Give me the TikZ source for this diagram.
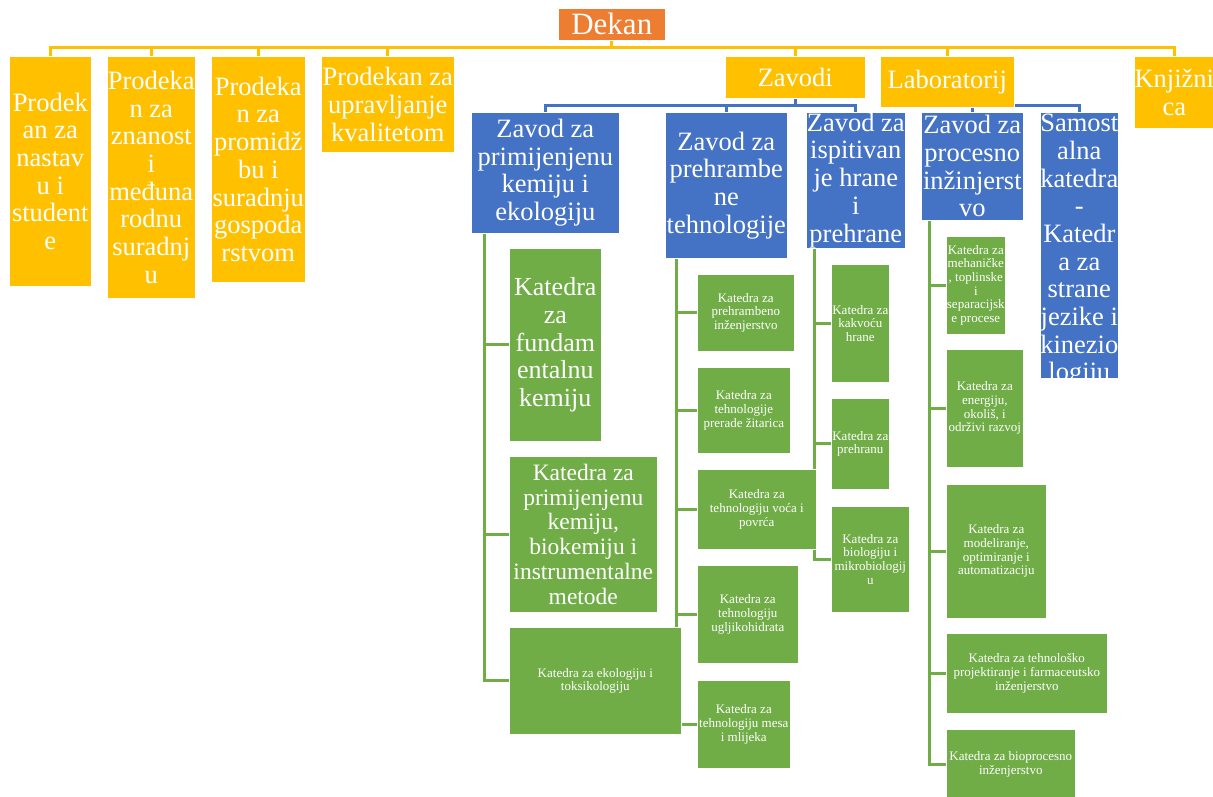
\documentclass[tikz,border=0pt]{standalone}
\usepackage{fontspec}
\setmainfont{Liberation Serif}
\usetikzlibrary{backgrounds}
\definecolor{dekanorange}{HTML}{ED7D31}
\definecolor{gold}{HTML}{FFC000}
\definecolor{zavodblue}{HTML}{4472C4}
\definecolor{katgreen}{HTML}{70AD47}
\newcommand{\bigtxt}{\fontsize{26.5}{27.7}\selectfont}
\newcommand{\smalltxt}{\fontsize{13}{13.7}\selectfont}

\begin{document}
\begin{tikzpicture}
		[x=1pt, y=-1pt,
		box/.style ={rectangle, draw=white, line width=0.6pt, text=white, align=center, anchor=north west, inner sep=0pt, font=\bigtxt},
		dean/.style ={box, fill=dekanorange, font=\fontsize{31}{34}\selectfont},
		prodekan/.style ={box, fill=gold},
		zavod/.style ={box, fill=zavodblue},
		katedra/.style ={box, fill=katgreen, font=\smalltxt},
		yline/.style ={draw=gold, line width=3pt},
		bline/.style ={draw=zavodblue, line width=3pt},
		gline/.style ={draw=katgreen, line width=3pt},
		orgdown/.style ={to path={(\tikztostart.south) -- ++(0,7) -| (\tikztotarget.north)}},
		orghidden/.style ={to path={(\tikztostart.south) ++(0,-2.5) -| (\tikztotarget.north)}},
		katbranch/.style ={to path={([xshift=#1]\tikztostart.south west) |- (\tikztotarget.west)}}]
		\useasboundingbox (0,0) rectangle (1213,796);
		% top level
		\draw (558,8) node[dean, minimum width=107pt, minimum height=32pt] (DK) {Dekan};
		\draw (9,56) node[prodekan, minimum width=82pt, minimum height=230pt] (P1) {Prodek\\an za\\nastav\\u i\\student\\e};
		\draw (107,56) node[prodekan, minimum width=88pt, minimum height=242pt] (P2) {Prodeka\\n za\\znanost\\i\\međuna\\rodnu\\suradnj\\u};
		\draw (211,56) node[prodekan, minimum width=94pt, minimum height=226pt] (P3) {Prodeka\\n za\\promidž\\bu i\\suradnju\\gospoda\\rstvom};
		\draw (321,56) node[prodekan, minimum width=133pt, minimum height=96pt] (P4) {Prodekan za\\upravljanje\\kvalitetom};
		\draw (725,56) node[prodekan, minimum width=140pt, minimum height=42pt] (ZV) {Zavodi};
		\draw (880,56) node[prodekan, minimum width=134pt, minimum height=51pt] (LB) {Laboratorij};
		\draw (1134,56) node[prodekan, minimum width=80pt, minimum height=72pt] (KN) {Knjižni\\ca};
		% zavodi
		\draw (471,112) node[zavod, minimum width=148pt, minimum height=121pt] (ZA) {Zavod za\\primijenjenu\\kemiju i\\ekologiju};
		\draw (665,112) node[zavod, minimum width=122pt, minimum height=146pt] (ZB) {Zavod za\\prehrambe\\ne\\tehnologije};
		\draw (806,112) node[zavod, minimum width=99pt, minimum height=136pt] (ZC) {Zavod za\\ispitivan\\je hrane\\i\\prehrane};
		\draw (921,112) node[zavod, minimum width=102pt, minimum height=108pt] (ZD) {Zavod za\\procesno\\inžinjerst\\vo};
		\draw (1040,112) node[zavod, minimum width=78pt, minimum height=266pt,
			path picture={\node[anchor=north, text=white, align=center, inner sep=0pt, draw=none, fill=none, minimum width=0pt, minimum height=0pt, font=\bigtxt]
				at ([yshift=-1.5pt]path picture bounding box.north) {Samost\\alna\\katedra\\-\\Katedr\\a za\\strane\\jezike i\\kinezio\\logiju};}] (ZE) {};
		% katedre
		\draw (509,248) node[katedra, minimum width=92pt, minimum height=193pt, font=\fontsize{26}{27.7}\selectfont] (KA1) {Katedra\\za\\fundam\\entalnu\\kemiju};
		\draw (509,456) node[katedra, minimum width=148pt, minimum height=156pt, font=\fontsize{23.5}{24.7}\selectfont] (KA2) {Katedra za\\primijenjenu\\kemiju,\\biokemiju i\\instrumentalne\\metode};
		\draw (509,627) node[katedra, minimum width=172pt, minimum height=107pt] (KA3) {Katedra za ekologiju i\\toksikologiju};
		\draw (697,274) node[katedra, minimum width=97pt, minimum height=77pt] (KB1) {Katedra za\\prehrambeno\\inženjerstvo};
		\draw (697,367) node[katedra, minimum width=93pt, minimum height=86pt] (KB2) {Katedra za\\tehnologije\\prerade žitarica};
		\draw (697,469) node[katedra, minimum width=119pt, minimum height=80pt] (KB3) {Katedra za\\tehnologiju voća i\\povrća};
		\draw (697,565) node[katedra, minimum width=101pt, minimum height=98pt] (KB4) {Katedra za\\tehnologiju\\ugljikohidrata};
		\draw (697,680) node[katedra, minimum width=93pt, minimum height=88pt] (KB5) {Katedra za\\tehnologiju mesa\\i mlijeka};
		\draw (831,264) node[katedra, minimum width=58pt, minimum height=118pt] (KC1) {Katedra za\\kakvoću\\hrane};
		\draw (831,398) node[katedra, minimum width=58pt, minimum height=91pt] (KC2) {Katedra za\\prehranu};
		\draw (831,506) node[katedra, minimum width=78pt, minimum height=106pt] (KC3) {Katedra za\\biologiju i\\mikrobiologij\\u};
		\draw (946,236) node[katedra, minimum width=59pt, minimum height=98pt] (KD1) {Katedra za\\mehaničke\\, toplinske\\i\\separacijsk\\e procese};
		\draw (946,349) node[katedra, minimum width=77pt, minimum height=118pt] (KD2) {Katedra za\\energiju,\\okoliš, i\\održivi razvoj};
		\draw (946,484) node[katedra, minimum width=100pt, minimum height=134pt] (KD3) {Katedra za\\modeliranje,\\optimiranje i\\automatizaciju};
		\draw (946,633) node[katedra, minimum width=161pt, minimum height=80pt] (KD4) {Katedra za tehnološko\\projektiranje i farmaceutsko\\inženjerstvo};
		\draw (946,729) node[katedra, minimum width=129pt, minimum height=70pt] (KD5) {Katedra za bioprocesno\\inženjerstvo};

		\begin{scope}[on background layer]
		\fill[white] (0,0) rectangle (1213,796);
		\path[yline]
		(DK) edge[orgdown] (P1)
		(DK) edge[orgdown] (P2)
		(DK) edge[orgdown] (P3)
		(DK) edge[orgdown] (P4)
		(DK) edge[orgdown] (ZV)
		(DK) edge[orgdown] (LB)
		(DK) edge[orgdown] (KN);
		\path[bline]
		(ZV) edge[orgdown] (ZA)
		(ZV) edge[orgdown] (ZB)
		(ZV) edge[orgdown] (ZC)
		(LB) edge[orghidden] (ZD)
		(LB) edge[orghidden] (ZE);
		\path[gline]
		(ZA) edge[katbranch=13pt] (KA1)
		(ZA) edge[katbranch=13pt] (KA2)
		(ZA) edge[katbranch=13pt] (KA3)
		(ZB) edge[katbranch=11pt] (KB1)
		(ZB) edge[katbranch=11pt] (KB2)
		(ZB) edge[katbranch=11pt] (KB3)
		(ZB) edge[katbranch=11pt] (KB4)
		(ZB) edge[katbranch=11pt] (KB5)
		(ZC) edge[katbranch=8pt] (KC1)
		(ZC) edge[katbranch=8pt] (KC2)
		(ZC) edge[katbranch=8pt] (KC3)
		(ZD) edge[katbranch=8pt] (KD1)
		(ZD) edge[katbranch=8pt] (KD2)
		(ZD) edge[katbranch=8pt] (KD3)
		(ZD) edge[katbranch=8pt] (KD4)
		(ZD) edge[katbranch=8pt] (KD5);
		\end{scope}
	\end{tikzpicture}
\end{document}
